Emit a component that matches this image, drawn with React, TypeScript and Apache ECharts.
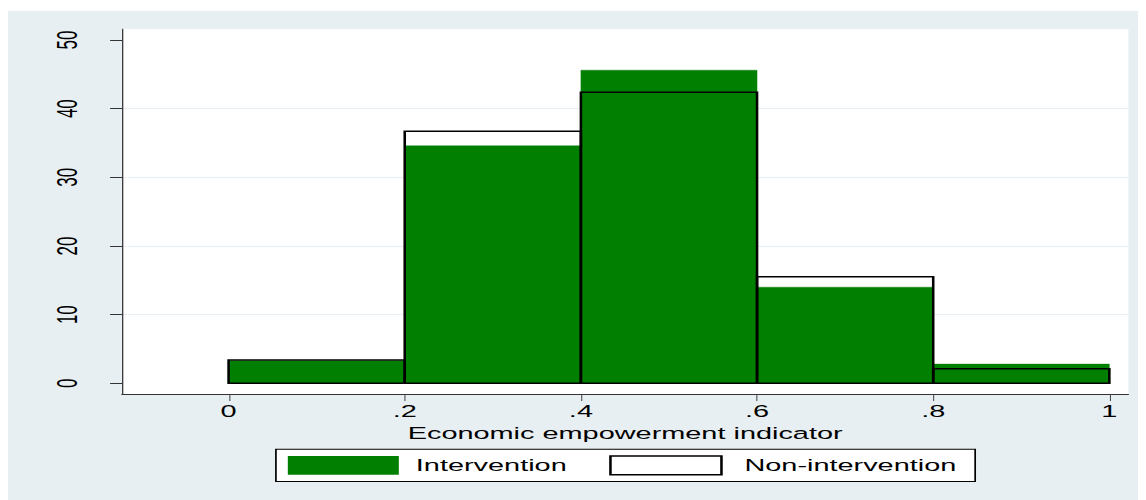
import React, { useEffect, useRef } from "react";
import * as echarts from "echarts";

// ---- data ----
const binStarts = [0, 0.2, 0.4, 0.6, 0.8];
const binWidth = 0.2;
const intervention = [3.3, 34.6, 45.6, 14.0, 2.8];
const nonIntervention = [3.4, 36.7, 42.4, 15.5, 2.1];
const xTicks = [0, 0.2, 0.4, 0.6, 0.8, 1];
const yTicks = [0, 10, 20, 30, 40, 50];
const xTitle = "Economic empowerment indicator";
const seriesNames = ["Intervention", "Non-intervention"];

// ---- layout (chart drawn narrow, then stretched horizontally like the reference) ----
const SX = 1.7;
const FULL_W = 1138;
const H = 489;
const FONT = "'Liberation Sans', Arial, Helvetica, sans-serif";

const fmtX = (v: number) => {
  const s = String(Math.round(v * 10) / 10);
  return s.startsWith("0.") ? s.slice(1) : s;
};

export default function App() {
  const ref = useRef<HTMLDivElement>(null);
  useEffect(() => {
    const chart = echarts.init(ref.current!, null, { renderer: "svg" });
    const makeRender = (kind: "fill" | "outline") => (params: any, api: any) => {
      const x0 = api.value(0);
      const y = api.value(1);
      const p0 = api.coord([x0, y]);
      const p1 = api.coord([x0 + binWidth, 0]);
      return {
        type: "rect",
        shape: { x: p0[0], y: p0[1], width: p1[0] - p0[0], height: p1[1] - p0[1] },
        style:
          kind === "fill"
            ? { fill: "#007f00", stroke: "#007f00", lineWidth: 0.3 }
            : { fill: "none", stroke: "#000", lineWidth: 1.5 },
      };
    };
    chart.setOption({
      animation: false,
      backgroundColor: "#e8eff2",
      textStyle: { fontFamily: FONT },
      grid: {
        left: 67.06,
        right: 10,
        top: 18,
        bottom: 106,
        show: true,
        backgroundColor: "#ffffff",
        borderWidth: 0,
        containLabel: false,
      },
      legend: {
        left: 157.6,
        top: 438.3,
        orient: "horizontal",
        backgroundColor: "#ffffff",
        borderColor: "#000",
        borderWidth: 1,
        padding: [6, 11, 6, 7],
        itemWidth: 65.3,
        itemHeight: 18.7,
        itemGap: 24.9,
        selectedMode: false,
        textStyle: { fontSize: 17, color: "#000", fontFamily: FONT, padding: [0, 0, 0, 5] },
        data: [
          { name: seriesNames[0], icon: "rect", itemStyle: { color: "#007f00", borderWidth: 0 } },
          {
            name: seriesNames[1],
            icon: "rect",
            itemStyle: { color: "#ffffff", borderColor: "#000", borderWidth: 1.5 },
            textStyle: { fontSize: 17, color: "#000", fontFamily: FONT, padding: [0, 0, 0, 8.5] },
          },
        ],
      },
      xAxis: {
        type: "value",
        min: -0.121,
        max: 1.0215,
        name: xTitle,
        nameLocation: "middle",
        nameGap: 30,
        nameTextStyle: { fontSize: 17, color: "#000", fontFamily: FONT },
        axisLine: { show: true, onZero: false, lineStyle: { color: "#333", width: 1 } },
        axisTick: {
          show: true,
          length: 7,
          customValues: xTicks,
          lineStyle: { color: "#444", width: 0.6 },
        },
        axisLabel: {
          customValues: xTicks,
          formatter: (v: number) => fmtX(v),
          fontSize: 17,
          color: "#000",
          margin: 9,
          fontFamily: FONT,
        },
        splitLine: { show: false },
      },
      yAxis: {
        type: "value",
        min: -1.56,
        max: 51.6,
        splitNumber: 5,
        axisLine: { show: true, onZero: false, lineStyle: { color: "#000", width: 0.6 } },
        axisTick: {
          show: true,
          length: 7,
          customValues: yTicks,
          lineStyle: { color: "#333", width: 1 },
        },
        axisLabel: {
          customValues: yTicks,
          rotate: 90,
          fontSize: 17,
          color: "#000",
          margin: 24,
          fontFamily: FONT,
        },
        splitLine: {
          show: true,
          showMinLine: false,
          showMaxLine: false,
          lineStyle: { color: "#e6eef3", width: 1.2 },
        },
      },
      series: [
        {
          name: seriesNames[0],
          type: "custom",
          renderItem: makeRender("fill"),
          itemStyle: { color: "#007f00" },
          encode: { x: 0, y: 1 },
          data: binStarts.map((b, i) => [b, intervention[i]]),
          z: 2,
        },
        {
          name: seriesNames[1],
          type: "custom",
          renderItem: makeRender("outline"),
          itemStyle: { color: "#ffffff", borderColor: "#000" },
          encode: { x: 0, y: 1 },
          data: binStarts.map((b, i) => [b, nonIntervention[i]]),
          z: 3,
        },
      ],
    });
    return () => chart.dispose();
  }, []);
  return (
    <div style={{ paddingTop: 3, width: FULL_W, height: H }}>
      <div
        ref={ref}
        style={{
          width: FULL_W / SX,
          height: H,
          transform: `scaleX(${SX})`,
          transformOrigin: "0 0",
        }}
      />
    </div>
  );
}
